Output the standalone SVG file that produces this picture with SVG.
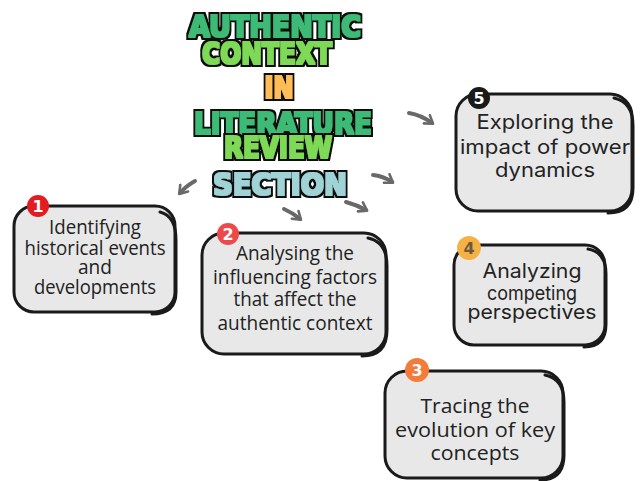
<svg xmlns="http://www.w3.org/2000/svg" width="640" height="481" viewBox="0 0 640 481">
<defs>
<style>
.title{font-family:"DejaVu Sans",sans-serif;font-weight:bold;font-size:30px;text-anchor:middle;filter:url(#outline)}
.box{fill:#e8e8e8;stroke:#1a1a1a;stroke-width:3}
.edge{fill:none;stroke:#1a1a1a;stroke-width:3;stroke-linecap:round}
.t1{font-family:"Open Sans",sans-serif;font-size:20px;fill:#222;text-anchor:middle}
.t2{font-family:"Inter","Noto Sans",sans-serif;font-size:20px;fill:#222;text-anchor:middle}
.badge-num{font-family:"DejaVu Sans",sans-serif;font-weight:bold;font-size:16px;text-anchor:middle}
.arrow{fill:none;stroke:#696969;stroke-width:4;stroke-linecap:round;marker-end:url(#head)}
</style>
<filter id="outline" x="-10%" y="-40%" width="120%" height="180%">
<feMorphology in="SourceGraphic" operator="dilate" radius="0.8" result="thick"/>
<feMorphology in="SourceAlpha" operator="dilate" radius="3.4" result="big"/>
<feFlood flood-color="#111111"/>
<feComposite in2="big" operator="in" result="outl"/>
<feMerge><feMergeNode in="outl"/><feMergeNode in="thick"/></feMerge>
</filter>
<marker id="head" viewBox="0 0 10 10" refX="6" refY="5" markerWidth="3.2" markerHeight="3.2" orient="auto" markerUnits="strokeWidth">
<path d="M1,1 L7,5 L1,9" fill="none" stroke="#696969" stroke-width="2" stroke-linecap="round" stroke-linejoin="round"/>
</marker>
</defs>
<rect width="640" height="481" fill="#ffffff"/>

<g id="title">
<text class="title" x="275" y="37" fill="#3dba74" textLength="172" lengthAdjust="spacingAndGlyphs">AUTHENTIC</text>
<text class="title" x="267" y="64" fill="#7ed957" textLength="130" lengthAdjust="spacingAndGlyphs">CONTEXT</text>
<text class="title" x="279" y="98" fill="#ffbd59" textLength="29" lengthAdjust="spacingAndGlyphs">IN</text>
<text class="title" x="283" y="134" fill="#3dba74" textLength="178" lengthAdjust="spacingAndGlyphs">LITERATURE</text>
<text class="title" x="278" y="158" fill="#7ed957" textLength="108" lengthAdjust="spacingAndGlyphs">REVIEW</text>
<text class="title" x="280" y="195" fill="#9fd3d6" textLength="134" lengthAdjust="spacingAndGlyphs">SECTION</text>
</g>

<g id="connectors">
<path class="arrow" d="M195,181 Q186,186 180,193"/>
<path class="arrow" d="M284,209 Q293,213 300,219"/>
<path class="arrow" d="M346,202 Q357,205 366,210"/>
<path class="arrow" d="M373,175 Q383,176 392,182"/>
<path class="arrow" d="M409,113 Q421,115 432,123"/>
</g>

<g id="node1">
<rect class="box" x="14" y="206" width="161" height="106" rx="20"/>
<path class="edge" d="M160,212 Q176,216 176,240 L176,292 Q176,314 152,314"/>
<circle cx="38" cy="206" r="11" fill="#e31b22"/>
<text class="badge-num" x="38" y="212" fill="#fff">1</text>
<text class="t1" x="95" y="234" textLength="92" lengthAdjust="spacingAndGlyphs">Identifying</text>
<text class="t1" x="95" y="255" textLength="141" lengthAdjust="spacingAndGlyphs">historical events</text>
<text class="t1" x="95" y="274" textLength="34" lengthAdjust="spacingAndGlyphs">and</text>
<text class="t1" x="95" y="294" textLength="122" lengthAdjust="spacingAndGlyphs">developments</text>
</g>

<g id="node2">
<rect class="box" x="202" y="233" width="184" height="121" rx="22"/>
<path class="edge" d="M368,238 Q387,242 387,266 L387,330 Q387,356 362,356"/>
<circle cx="228" cy="234" r="11" fill="#ec4a4a"/>
<text class="badge-num" x="228" y="240" fill="#fff">2</text>
<text class="t1" x="295" y="260" textLength="118" lengthAdjust="spacingAndGlyphs">Analysing the</text>
<text class="t1" x="295" y="284" textLength="164" lengthAdjust="spacingAndGlyphs">influencing factors</text>
<text class="t1" x="295" y="306" textLength="123" lengthAdjust="spacingAndGlyphs">that affect the</text>
<text class="t1" x="295" y="330" textLength="155" lengthAdjust="spacingAndGlyphs">authentic context</text>
</g>

<g id="node5">
<rect class="box" x="456" y="94" width="176" height="117" rx="22"/>
<path class="edge" d="M614,98 Q633,102 633,126 L633,188 Q633,213 608,213"/>
<circle cx="479" cy="98" r="11" fill="#1a1a1a"/>
<text class="badge-num" x="479" y="104" fill="#fff">5</text>
<text class="t2" x="545" y="129" textLength="137" lengthAdjust="spacingAndGlyphs">Exploring the</text>
<text class="t2" x="545" y="154" textLength="170" lengthAdjust="spacingAndGlyphs">impact of power</text>
<text class="t2" x="545" y="177" textLength="100" lengthAdjust="spacingAndGlyphs">dynamics</text>
</g>

<g id="node4">
<rect class="box" x="454" y="245" width="151" height="100" rx="20"/>
<path class="edge" d="M588,249 Q606,252 606,274 L606,324 Q606,347 584,347"/>
<circle cx="469" cy="248" r="12" fill="#f6b144"/>
<text class="badge-num" x="469" y="254" fill="#6b5a40">4</text>
<text class="t2" x="532" y="278" textLength="99" lengthAdjust="spacingAndGlyphs">Analyzing</text>
<text class="t2" x="532" y="300" textLength="90" lengthAdjust="spacingAndGlyphs">competing</text>
<text class="t2" x="532" y="319" textLength="129" lengthAdjust="spacingAndGlyphs">perspectives</text>
</g>

<g id="node3">
<rect class="box" x="385" y="371" width="178" height="107" rx="22"/>
<path class="edge" d="M545,375 Q564,379 564,402 L564,455 Q564,480 540,480"/>
<circle cx="417" cy="370" r="12" fill="#f47b3a"/>
<text class="badge-num" x="417" y="376" fill="#fff">3</text>
<text class="t1" x="475" y="413" textLength="109" lengthAdjust="spacingAndGlyphs">Tracing the</text>
<text class="t1" x="475" y="437" textLength="160" lengthAdjust="spacingAndGlyphs">evolution of key</text>
<text class="t1" x="475" y="460" textLength="89" lengthAdjust="spacingAndGlyphs">concepts</text>
</g>
</svg>
